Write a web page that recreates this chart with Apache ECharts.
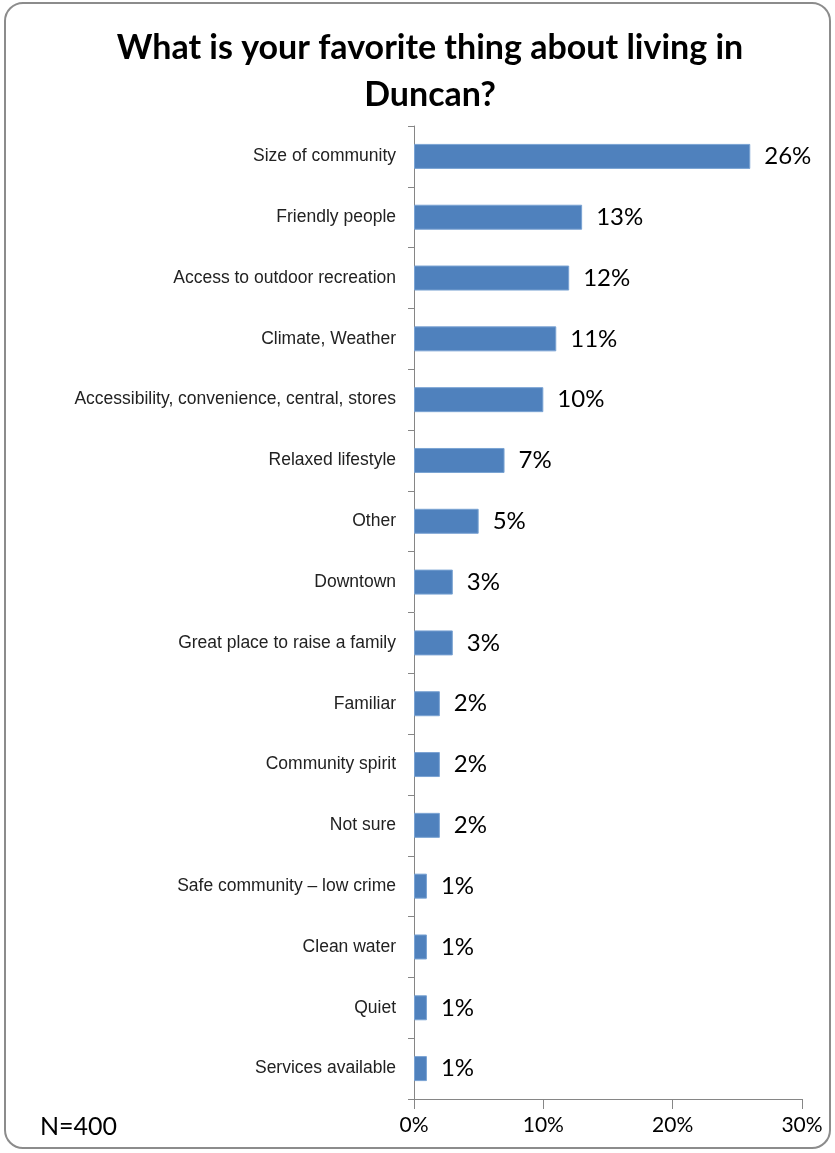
<!DOCTYPE html>
<html><head><meta charset="utf-8">
<script src="https://cdn.jsdelivr.net/npm/echarts@6/dist/echarts.min.js"></script>
<style>html,body{margin:0;padding:0;background:#fff}#c{width:835px;height:1153px}</style>
</head><body><div id="c"></div>
<script>
const titleText = 'What is your favorite thing about living in\nDuncan?';
const categories = ['Size of community','Friendly people','Access to outdoor recreation','Climate, Weather','Accessibility, convenience, central, stores','Relaxed lifestyle','Other','Downtown','Great place to raise a family','Familiar','Community spirit','Not sure','Safe community – low crime','Clean water','Quiet','Services available'];
const values = [26,13,12,11,10,7,5,3,3,2,2,2,1,1,1,1];
const xTicks = [0,10,20,30];
const noteText = 'N=400';

const chart = echarts.init(document.getElementById('c'), null, {renderer:'canvas'});
chart.setOption({
  animation:false,
  backgroundColor:'#fff',
  title:{text:titleText,top:20,textAlign:'center',left:425,
    textStyle:{fontFamily:'Lato, Carlito, sans-serif',fontWeight:'bold',fontSize:34,lineHeight:47,color:'#000'}},
  grid:{left:414,right:33,top:126,bottom:54,containLabel:false},
  xAxis:{type:'value',min:xTicks[0],max:xTicks[xTicks.length-1],interval:10,
    axisLine:{show:true,lineStyle:{color:'#868686'}},
    axisTick:{show:true,length:10,lineStyle:{color:'#868686'}},
    splitLine:{show:false},
    axisLabel:{formatter:'{value}%',margin:16,fontFamily:'Lato, Carlito, sans-serif',fontSize:21,color:'#000'}},
  yAxis:{type:'category',data:categories,inverse:true,
    axisLine:{show:true,lineStyle:{color:'#868686'}},
    axisTick:{show:true,length:6,lineStyle:{color:'#868686'}},
    axisLabel:{margin:18,fontFamily:"'Liberation Sans Narrow','Arial Narrow','Liberation Sans',sans-serif",fontSize:17.5,color:'#222'}},
  series:[{type:'bar',data:values,barWidth:25,
    itemStyle:{color:'#4F81BD',borderColor:'#7aa3d3',borderWidth:1},
    label:{show:true,position:'right',distance:14,formatter:'{c}%',fontFamily:'Lato, Carlito, sans-serif',fontSize:24,color:'#000'}}],
  graphic:[
    {type:'rect',shape:{x:5,y:3,width:825,height:1145,r:18},style:{fill:'none',stroke:'#8c8c8c',lineWidth:2},silent:true},
    {type:'text',left:40,top:1114,style:{text:noteText,fontFamily:'Lato, Carlito, sans-serif',fontSize:25,fill:'#000'}}
  ]
});
</script></body></html>
